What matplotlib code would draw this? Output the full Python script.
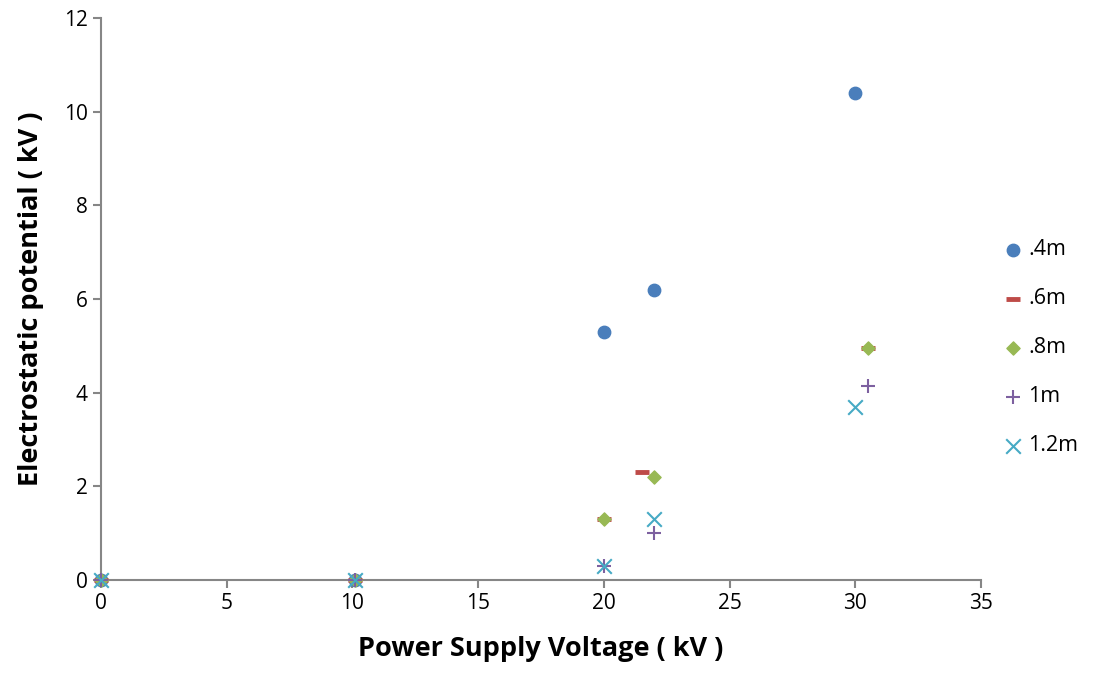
import matplotlib.pyplot as plt
import numpy as np

plt.rcParams['font.family'] = ['Open Sans', 'DejaVu Sans']

# data
x_04 = [0, 10.1, 20, 22, 30]
y_04 = [0, 0, 5.3, 6.2, 10.4]
x_06 = [0, 10.1, 20, 21.5, 30.5]
y_06 = [0, 0, 1.3, 2.3, 4.95]
x_08 = [0, 10.1, 20, 22, 30.5]
y_08 = [0, 0, 1.3, 2.2, 4.95]
x_1 = [0, 10.1, 20, 22, 30.5]
y_1 = [0, 0, 0.3, 1.0, 4.15]
x_12 = [0, 10.1, 20, 22, 30]
y_12 = [0, 0, 0.3, 1.3, 3.7]

fig = plt.figure(figsize=(11.17, 6.77), dpi=100)
ax = fig.add_axes([0.0904, 0.1433, 0.788, 0.830])

ax.scatter(x_04, y_04, marker="o", s=80, c="#4a7ebb", label=".4m", zorder=3)
ax.scatter(x_06, y_06, marker="_", s=90, c="#be4b48", linewidths=3.5, label=".6m", zorder=3)
ax.scatter(x_08, y_08, marker="D", s=45, c="#98b954", label=".8m", zorder=3)
ax.scatter(x_1, y_1, marker="+", s=110, c="#7d60a0", linewidths=1.5, label="1m", zorder=3)
ax.scatter(x_12, y_12, marker="x", s=110, c="#46aac5", linewidths=1.5, label="1.2m", zorder=3)

ax.set_xlim(0, 35)
ax.set_ylim(0, 12)
ax.set_xticks(np.arange(0, 36, 5))
ax.set_yticks(np.arange(0, 13, 2))
ax.spines["top"].set_visible(False)
ax.spines["right"].set_visible(False)
ax.spines["left"].set_color("#868686")
ax.spines["bottom"].set_color("#868686")
ax.spines["left"].set_linewidth(1.5)
ax.spines["bottom"].set_linewidth(1.5)
ax.tick_params(axis="both", colors="#868686", labelcolor="black", labelsize=15,
               length=6, width=1.5, direction="out")
for c in ax.collections:
    c.set_clip_on(False)

ax.set_xlabel("Power Supply Voltage ( kV )", fontsize=19.5, fontweight="bold", labelpad=16)
ax.set_ylabel("Electrostatic potential ( kV )", fontsize=19.5, fontweight="bold", labelpad=14)

ax.legend(loc="center left", bbox_to_anchor=(1.0, 0.413), frameon=False,
          fontsize=15.5, handletextpad=0.1, labelspacing=1.3, scatterpoints=1,
          handlelength=1.2)

plt.savefig("out.png")
